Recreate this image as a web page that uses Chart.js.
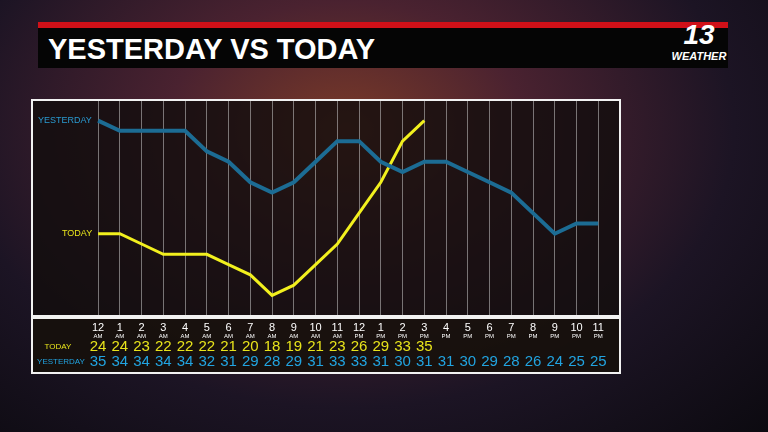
<!DOCTYPE html>
<html>
<head>
<script src="https://cdn.jsdelivr.net/npm/chart.js@4"></script>
<style>
  body { margin: 0; width: 768px; height: 432px; overflow: hidden; font-family: "Liberation Sans", Arial, sans-serif;
    background: radial-gradient(ellipse at 45% 30%, #7a3a28 0%, #4a2230 30%, #1c1424 65%, #0c0a10 100%); }
  #wrap { position: absolute; left: 0; top: 0; width: 768px; height: 432px; }
  #redbar { position: absolute; left: 38px; top: 22px; width: 690px; height: 6px; background: #d01018; }
  #title { position: absolute; left: 38px; top: 28px; width: 690px; height: 40px; background: #050505;
    color: #fff; font: bold 29px "Liberation Sans", Arial, sans-serif; line-height: 42px; padding-left: 10px; box-sizing: border-box; }
  #logo { position: absolute; left: 668px; top: 20px; width: 62px; text-align: center; color: #fff; font-weight: bold; font-style: italic; }
  #logo .n { font-size: 28px; line-height: 30px; }
  #logo .w { font-size: 11px; }
</style>
</head>
<body>
<div id="redbar"></div>
<div id="title">YESTERDAY VS TODAY</div>
<div id="logo"><div class="n">13</div><div class="w">WEATHER</div></div>
<div id="wrap"><canvas id="chart" width="768" height="432"></canvas></div>
<script>
var hours = ['12', '1', '2', '3', '4', '5', '6', '7', '8', '9', '10', '11', '12', '1', '2', '3', '4', '5', '6', '7', '8', '9', '10', '11'];
var ampm = ['AM','AM','AM','AM','AM','AM','AM','AM','AM','AM','AM','AM','PM','PM','PM','PM','PM','PM','PM','PM','PM','PM','PM','PM'];
var today = [24, 24, 23, 22, 22, 22, 21, 20, 18, 19, 21, 23, 26, 29, 33, 35];
var yesterday = [35, 34, 34, 34, 34, 32, 31, 29, 28, 29, 31, 33, 33, 31, 30, 31, 31, 30, 29, 28, 26, 24, 25, 25];

function pts(arr) { return arr.map(function (v, i) { return { x: i, y: v }; }); }

var tablePlugin = {
  id: 'table',
  beforeDraw: function (c) {
    var ctx = c.ctx, a = c.chartArea;
    ctx.save();
    ctx.fillStyle = 'rgba(18,14,14,0.82)';
    ctx.fillRect(a.left, a.top, a.right - a.left, a.bottom - a.top);
    ctx.fillStyle = 'rgba(22,16,10,0.88)';
    ctx.fillRect(a.left, a.bottom + 2, a.right - a.left, 55);
    ctx.restore();
  },
  afterDraw: function (c) {
    var ctx = c.ctx, a = c.chartArea, xs = c.scales.x, ys = c.scales.y;
    ctx.save();
    ctx.strokeStyle = '#f2f2f2';
    ctx.lineWidth = 2;
    ctx.strokeRect(a.left, a.top, a.right - a.left, a.bottom - a.top);
    ctx.strokeRect(a.left, a.bottom + 2, a.right - a.left, 55);
    ctx.textAlign = 'center';
    ctx.textBaseline = 'middle';
    hours.forEach(function (h, i) {
      var x = xs.getPixelForValue(i);
      ctx.fillStyle = '#ffffff';
      ctx.font = '11px "Liberation Sans"';
      ctx.fillText(h, x, a.bottom + 12);
      ctx.font = '6px "Liberation Sans"';
      ctx.fillText(ampm[i], x, a.bottom + 20);
      ctx.font = '15px "Liberation Sans"';
      if (i < today.length) { ctx.fillStyle = '#e8e41c'; ctx.fillText(today[i], x, a.bottom + 31); }
      ctx.fillStyle = '#22a4e0';
      ctx.fillText(yesterday[i], x, a.bottom + 46);
    });
    ctx.font = '8px "Liberation Sans"';
    ctx.fillStyle = '#e8e41c';
    ctx.fillText('TODAY', 58, a.bottom + 31);
    ctx.fillStyle = '#22a4e0';
    ctx.fillText('YESTERDAY', 61, a.bottom + 46);
    ctx.textAlign = 'left';
    ctx.font = '9px "Liberation Sans"';
    ctx.fillStyle = '#2a9ad0';
    ctx.fillText('YESTERDAY', 38, ys.getPixelForValue(yesterday[0]));
    ctx.fillStyle = '#e8e41c';
    ctx.fillText('TODAY', 62, ys.getPixelForValue(today[0]));
    ctx.restore();
  }
};

new Chart(document.getElementById('chart'), {
  type: 'line',
  data: {
    datasets: [
      { label: 'Yesterday', data: pts(yesterday), borderColor: '#1c6c94', borderWidth: 4, pointRadius: 0, tension: 0 },
      { label: 'Today', data: pts(today), borderColor: '#f2f01e', borderWidth: 3, pointRadius: 0, tension: 0 }
    ]
  },
  options: {
    responsive: false,
    animation: false,
    layout: { padding: { left: 24, right: 148, top: 100, bottom: 116 } },
    plugins: { legend: { display: false }, tooltip: { enabled: false } },
    scales: {
      x: {
        type: 'linear', min: -3.04, max: 24,
        afterBuildTicks: function (s) { s.ticks = hours.map(function (h, i) { return { value: i }; }); },
        grid: { color: 'rgba(200,200,200,0.55)', lineWidth: 1, drawTicks: false },
        border: { display: false },
        ticks: { display: false }
      },
      y: {
        min: 16, max: 37,
        grid: { display: false },
        border: { display: false },
        ticks: { display: false }
      }
    }
  },
  plugins: [tablePlugin]
});
</script>
</body>
</html>
